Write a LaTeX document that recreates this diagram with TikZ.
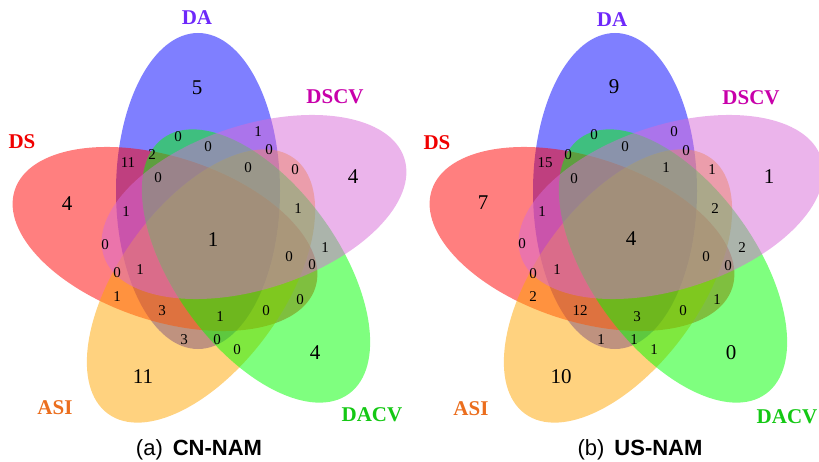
\documentclass[tikz,border=0pt]{standalone}
\usepackage{fontspec}
\setmainfont{Liberation Serif}
\newfontfamily\capfont{Liberation Sans}
\definecolor{cDA}{RGB}{0,0,255}
\definecolor{cDS}{RGB}{255,0,0}
\definecolor{cDSCV}{RGB}{215,105,215}
\definecolor{cDACV}{RGB}{0,255,0}
\definecolor{cASI}{RGB}{255,165,0}
\definecolor{lDA}{RGB}{110,40,250}
\definecolor{lDS}{RGB}{240,0,0}
\definecolor{lDSCV}{RGB}{200,0,170}
\definecolor{lDACV}{RGB}{20,200,20}
\definecolor{lASI}{RGB}{235,110,30}
\tikzset{
  vset/.style={fill=#1, fill opacity=0.5},
  num/.style={inner sep=0pt, font=\fontsize{15}{15}\selectfont},
  bignum/.style={inner sep=0pt, font=\fontsize{21}{21}\selectfont},
  setlab/.style={inner sep=0pt, text=#1, font=\fontsize{21}{21}\selectfont\bfseries},
  caplab/.style={inner sep=0pt, font=\capfont\fontsize{22}{22}\selectfont}
}
\newcommand\vennfive{%
  \fill[vset=cDA, shift={(198,191)}, rotate=90] (0,0) ellipse [x radius=158pt, y radius=82pt];
  \fill[vset=cDS, shift={(165,239)}, rotate=-18] (0,0) ellipse [x radius=158pt, y radius=82pt];
  \fill[vset=cASI, shift={(201,286)}, rotate=54] (0,0) ellipse [x radius=158pt, y radius=82pt];
  \fill[vset=cDACV, shift={(256,266)}, rotate=-54] (0,0) ellipse [x radius=158pt, y radius=82pt];
  \fill[vset=cDSCV, shift={(254,207)}, rotate=18] (0,0) ellipse [x radius=158pt, y radius=82pt];
}
\begin{document}
\begin{tikzpicture}[x=1pt,y=-1pt]
\useasboundingbox (0,0) rectangle (819,462);
% ---------------- panel (a)
\begin{scope}
\vennfive
\end{scope}
\node[setlab=lDA] (aDA) at (197,18) {DA};
\node[setlab=lDSCV] (aDSCV) at (335,97) {DSCV};
\node[setlab=lDS] (aDS) at (22,142) {DS};
\node[setlab=lASI] (aASI) at (55,408) {ASI};
\node[setlab=lDACV] (aDACV) at (372,415) {DACV};
\node[bignum] (a1) at (197,88) {5};
\node[bignum] (a2) at (67,204) {4};
\node[bignum] (a3) at (353,177) {4};
\node[bignum] (a4) at (213,240) {1};
\node[bignum] (a5) at (315,353) {4};
\node[bignum] (a6) at (143,377) {11};
\node[num] (a7) at (178,137) {0};
\node[num] (a8) at (258,132) {1};
\node[num] (a9) at (208,147) {0};
\node[num] (a10) at (269,150) {0};
\node[num] (a11) at (152,155) {2};
\node[num] (a12) at (128,163) {11};
\node[num] (a13) at (158,178) {0};
\node[num] (a14) at (248,168) {0};
\node[num] (a15) at (295,170) {0};
\node[num] (a16) at (126,212) {1};
\node[num] (a17) at (298,209) {1};
\node[num] (a18) at (105,245) {0};
\node[num] (a19) at (325,248) {1};
\node[num] (a20) at (289,257) {0};
\node[num] (a21) at (312,265) {0};
\node[num] (a22) at (117,273) {0};
\node[num] (a23) at (140,270) {1};
\node[num] (a24) at (117,297) {1};
\node[num] (a25) at (300,300) {0};
\node[num] (a26) at (162,311) {3};
\node[num] (a27) at (266,311) {0};
\node[num] (a28) at (220,317) {1};
\node[num] (a29) at (184,340) {3};
\node[num] (a30) at (217,340) {0};
\node[num] (a31) at (237,350) {0};
\node[caplab] (acap) at (199,450) {(a)\hspace{10pt}\textbf{CN-NAM}};
% ---------------- panel (b)
\begin{scope}[shift={(417,0)}]
\vennfive
\end{scope}
\node[setlab=lDA] (bDA) at (612,20) {DA};
\node[setlab=lDSCV] (bDSCV) at (751,98) {DSCV};
\node[setlab=lDS] (bDS) at (437,143) {DS};
\node[setlab=lASI] (bASI) at (471,409) {ASI};
\node[setlab=lDACV] (bDACV) at (787,417) {DACV};
\node[bignum] (b1) at (614,87) {9};
\node[bignum] (b2) at (483,203) {7};
\node[bignum] (b3) at (769,177) {1};
\node[bignum] (b4) at (631,239) {4};
\node[bignum] (b5) at (731,353) {0};
\node[bignum] (b6) at (561,377) {10};
\node[num] (b7) at (594,135) {0};
\node[num] (b8) at (674,132) {0};
\node[num] (b9) at (625,147) {0};
\node[num] (b10) at (686,151) {0};
\node[num] (b11) at (568,155) {0};
\node[num] (b12) at (545,163) {15};
\node[num] (b13) at (574,179) {0};
\node[num] (b14) at (666,168) {1};
\node[num] (b15) at (712,170) {1};
\node[num] (b16) at (542,212) {1};
\node[num] (b17) at (715,209) {2};
\node[num] (b18) at (522,244) {0};
\node[num] (b19) at (742,248) {2};
\node[num] (b20) at (706,257) {0};
\node[num] (b21) at (728,266) {0};
\node[num] (b22) at (533,274) {0};
\node[num] (b23) at (557,270) {1};
\node[num] (b24) at (533,297) {2};
\node[num] (b25) at (717,300) {1};
\node[num] (b26) at (580,311) {12};
\node[num] (b27) at (683,311) {0};
\node[num] (b28) at (637,317) {3};
\node[num] (b29) at (601,340) {1};
\node[num] (b30) at (634,340) {1};
\node[num] (b31) at (654,350) {1};
\node[caplab] (bcap) at (640,450) {(b)\hspace{10pt}\textbf{US-NAM}};
\end{tikzpicture}
\end{document}
